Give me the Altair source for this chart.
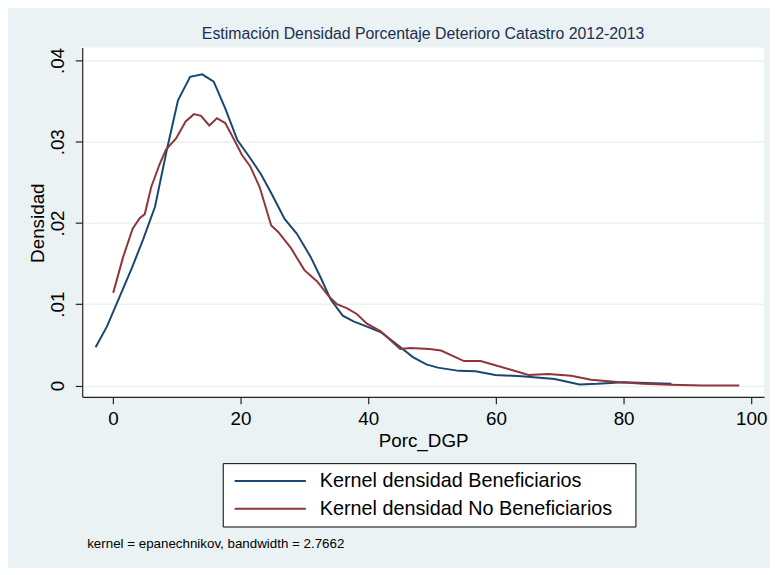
import altair as alt
import pandas as pd

# Kernel density — Beneficiarios
ben_x = [-2.7, -0.9, 1.1, 3.0, 4.7, 6.6, 8.4, 10.2, 12.1, 14.0, 15.8, 17.6, 19.5,
         21.5, 23.2, 24.8, 26.9, 28.8, 31.0, 32.6, 34.1, 36.0, 37.7, 40.3, 42.1,
         44.4, 47.0, 49.1, 50.9, 54.2, 56.8, 59.9, 64.0, 69.2, 73.1, 75.9, 80.0,
         83.6, 87.5]
ben_y = [0.0047, 0.0073, 0.0110, 0.0145, 0.0179, 0.0220, 0.0288, 0.0351, 0.0380,
         0.0383, 0.0374, 0.0341, 0.0302, 0.0280, 0.0260, 0.0237, 0.0205, 0.0187,
         0.0158, 0.0132, 0.0106, 0.0086, 0.0079, 0.0071, 0.0065, 0.0051, 0.0035,
         0.0026, 0.0022, 0.0018, 0.00175, 0.0013, 0.00114, 0.0008, 0.00012,
         0.0002, 0.0004, 0.0003, 0.0002]

# Kernel density — No Beneficiarios
nob_x = [0.05, 1.6, 3.1, 4.2, 5.0, 6.0, 7.3, 8.3, 9.9, 11.4, 12.7, 13.8, 15.1,
         16.3, 17.6, 18.9, 20.2, 21.5, 23.0, 24.8, 25.9, 27.9, 30.0, 32.0, 33.8,
         35.1, 36.7, 38.2, 39.8, 41.9, 45.0, 46.6, 49.6, 51.4, 55.0, 57.6, 59.9,
         62.5, 65.1, 68.2, 71.8, 74.9, 79.5, 83.1, 87.3, 92.4, 98.1]
nob_y = [0.0114, 0.0158, 0.0193, 0.0206, 0.0211, 0.0244, 0.0272, 0.0290, 0.0304,
         0.0325, 0.0334, 0.0332, 0.0320, 0.0329, 0.0323, 0.0304, 0.0284, 0.0270,
         0.0244, 0.0197, 0.0189, 0.0169, 0.0142, 0.0128, 0.0110, 0.0100, 0.0095,
         0.0088, 0.0076, 0.0067, 0.0045, 0.0046, 0.0045, 0.0043, 0.0030, 0.0030,
         0.0025, 0.0019, 0.0013, 0.0014, 0.0012, 0.0007, 0.0004, 0.0002, 0.0001,
         0.0, 0.0]

series = ["Kernel densidad Beneficiarios", "Kernel densidad No Beneficiarios"]
colors = ["#1A476F", "#90353B"]
x_ticks = [0, 20, 40, 60, 80, 100]
y_ticks = [0, 0.01, 0.02, 0.03, 0.04]

title_text = "Estimación Densidad Porcentaje Deterioro Catastro 2012-2013"
note_text = "kernel = epanechnikov, bandwidth = 2.7662"

df = pd.concat([
    pd.DataFrame({"x": ben_x, "y": ben_y, "serie": series[0], "o": range(len(ben_x))}),
    pd.DataFrame({"x": nob_x, "y": nob_y, "serie": series[1], "o": range(len(nob_x))}),
])

FONT = "Liberation Sans"

lines = alt.Chart(df).mark_line(strokeWidth=2, interpolate="linear").encode(
    x=alt.X("x:Q",
            scale=alt.Scale(domain=[-4.8, 102], nice=False, zero=False),
            axis=alt.Axis(values=x_ticks, title="Porc_DGP", grid=False,
                          labelBaseline="alphabetic", labelPadding=21,
                          tickSize=7, titleY=50, titleBaseline="alphabetic")),
    y=alt.Y("y:Q",
            scale=alt.Scale(domain=[-0.0014, 0.0416], nice=False, zero=False),
            axis=alt.Axis(values=y_ticks, title="Densidad", grid=True,
                          labelAngle=270, labelAlign="center",
                          labelBaseline="alphabetic", labelPadding=12, tickSize=7,
                          labelExpr="datum.value == 0 ? '0' : '.0' + format(datum.value * 100, '.0f')",
                          titleX=-39, titleY=177, titleAngle=270,
                          titleBaseline="alphabetic", titleAlign="center")),
    color=alt.Color("serie:N",
                    scale=alt.Scale(domain=series, range=colors),
                    legend=alt.Legend(title=None, orient="none", legendX=142, legendY=420,
                                      symbolType="M-1,0H11", symbolSize=144,
                                      symbolStrokeWidth=2, labelOffset=70,
                                      labelLimit=1000,
                                      labelExpr="datum.label + '\u2800'",
                                      padding=8, rowPadding=8,
                                      strokeColor="#000000", fillColor="#FFFFFF",
                                      labelFontSize=20, labelFont=FONT, labelColor="#000000")),
    order="o:Q",
)

note = alt.Chart(pd.DataFrame({"t": [note_text]})).mark_text(
    align="left", baseline="alphabetic", fontSize=13.5, font=FONT, color="#000000"
).encode(x=alt.value(5), y=alt.value(506), text="t:N")

chart = alt.layer(lines, note).properties(
    width=689, height=353,
    background="#EAF2F3",
    padding={"left": 75, "top": 37, "right": 6, "bottom": 170},
    autosize=alt.AutoSizeParams(type="none"),
    title=alt.TitleParams(title_text, anchor="middle", fontSize=16, font=FONT,
                          fontWeight="normal", color="#1C2F52", offset=6),
).configure_view(fill="#FFFFFF", stroke=None).configure_axis(
    labelFont=FONT, titleFont=FONT, labelFontSize=19, titleFontSize=19,
    titleFontWeight="normal", labelColor="#000000", titleColor="#000000",
    domainColor="#222222", tickColor="#222222", domainWidth=1.2, tickWidth=1.2,
    gridColor="#EAF2F3", gridWidth=1.5,
)

chart.save("out.html", embed_options={"renderer": "svg", "actions": False})
